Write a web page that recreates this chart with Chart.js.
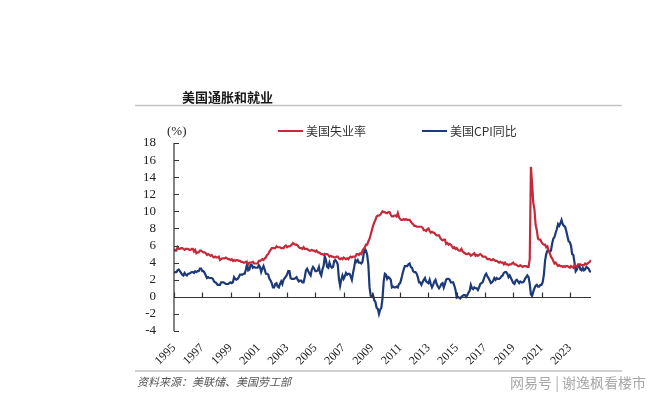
<!DOCTYPE html>
<html>
<head>
<meta charset="utf-8">
<script src="https://cdn.jsdelivr.net/npm/chart.js@4.4.1/dist/chart.umd.min.js"></script>
<style>
  html, body { margin: 0; padding: 0; background: #fff; }
  #wrap { position: relative; width: 660px; height: 399px; }
</style>
</head>
<body>
<div id="wrap"><canvas id="chart" width="660" height="399"></canvas></div>
<script>
// Données mensuelles, janvier 1995 -> juillet 2024
const startYear = 1995;
const tickYears = [1995, 1997, 1999, 2001, 2003, 2005, 2007, 2009, 2011, 2013, 2015, 2017, 2019, 2021, 2023];
const yTickValues = [-4, -2, 0, 2, 4, 6, 8, 10, 12, 14, 16, 18];

// 美国失业率 (%)
const unemployment = [
  5.6, 5.4, 5.4, 5.8, 5.6, 5.6, 5.7, 5.7, 5.6, 5.5, 5.6, 5.6,
  5.6, 5.5, 5.5, 5.6, 5.6, 5.3, 5.5, 5.1, 5.2, 5.2, 5.4, 5.4,
  5.3, 5.2, 5.2, 5.1, 4.9, 5.0, 4.9, 4.8, 4.9, 4.7, 4.6, 4.7,
  4.6, 4.6, 4.7, 4.3, 4.4, 4.5, 4.5, 4.5, 4.6, 4.5, 4.4, 4.4,
  4.3, 4.4, 4.2, 4.3, 4.2, 4.3, 4.3, 4.2, 4.2, 4.1, 4.1, 4.0,
  4.0, 4.1, 4.0, 3.8, 4.0, 4.0, 4.0, 4.1, 3.9, 3.9, 3.9, 3.9,
  4.2, 4.2, 4.3, 4.4, 4.3, 4.5, 4.6, 4.9, 5.0, 5.3, 5.5, 5.7,
  5.7, 5.7, 5.7, 5.9, 5.8, 5.8, 5.8, 5.7, 5.7, 5.7, 5.9, 6.0,
  5.8, 5.9, 5.9, 6.0, 6.1, 6.3, 6.2, 6.1, 6.1, 6.0, 5.8, 5.7,
  5.7, 5.6, 5.8, 5.6, 5.6, 5.6, 5.5, 5.4, 5.4, 5.5, 5.4, 5.4,
  5.3, 5.4, 5.2, 5.2, 5.1, 5.0, 5.0, 4.9, 5.0, 5.0, 5.0, 4.9,
  4.7, 4.8, 4.7, 4.7, 4.6, 4.6, 4.7, 4.7, 4.5, 4.4, 4.5, 4.4,
  4.6, 4.5, 4.4, 4.5, 4.4, 4.6, 4.7, 4.6, 4.7, 4.7, 4.7, 5.0,
  5.0, 4.9, 5.1, 5.0, 5.4, 5.6, 5.8, 6.1, 6.1, 6.5, 6.8, 7.3,
  7.8, 8.3, 8.7, 9.0, 9.4, 9.5, 9.5, 9.6, 9.8, 10.0, 9.9, 9.9,
  9.8, 9.8, 9.9, 9.9, 9.6, 9.4, 9.4, 9.5, 9.5, 9.4, 9.8, 9.3,
  9.1, 9.0, 9.0, 9.1, 9.0, 9.1, 9.0, 9.0, 9.0, 8.8, 8.6, 8.5,
  8.3, 8.3, 8.2, 8.2, 8.2, 8.2, 8.2, 8.1, 7.8, 7.8, 7.7, 7.9,
  8.0, 7.7, 7.5, 7.6, 7.5, 7.5, 7.3, 7.2, 7.2, 7.2, 6.9, 6.7,
  6.6, 6.7, 6.7, 6.2, 6.3, 6.1, 6.2, 6.1, 5.9, 5.7, 5.8, 5.6,
  5.7, 5.5, 5.4, 5.4, 5.6, 5.3, 5.2, 5.1, 5.0, 5.0, 5.1, 5.0,
  4.8, 4.9, 5.0, 5.1, 4.8, 4.9, 4.8, 4.9, 5.0, 4.9, 4.7, 4.7,
  4.7, 4.6, 4.4, 4.4, 4.4, 4.3, 4.3, 4.4, 4.3, 4.2, 4.2, 4.1,
  4.0, 4.1, 4.0, 4.0, 3.8, 4.0, 3.8, 3.8, 3.7, 3.8, 3.8, 3.9,
  4.0, 3.8, 3.8, 3.7, 3.6, 3.6, 3.7, 3.6, 3.5, 3.6, 3.6, 3.6,
  3.5, 3.5, 4.4, 15.2, 13.2, 11.0, 10.2, 8.4, 7.8, 6.8, 6.7, 6.7,
  6.4, 6.2, 6.1, 6.1, 5.8, 5.9, 5.4, 5.1, 4.7, 4.5, 4.2, 3.9,
  4.0, 3.8, 3.6, 3.7, 3.6, 3.6, 3.5, 3.6, 3.5, 3.6, 3.6, 3.5,
  3.4, 3.6, 3.5, 3.4, 3.7, 3.6, 3.5, 3.8, 3.8, 3.8, 3.7, 3.7,
  3.7, 3.9, 3.8, 3.9, 4.0, 4.1, 4.3
];

// 美国CPI同比 (%)
const cpiYoY = [
  2.8, 2.9, 2.9, 3.1, 3.2, 3.0, 2.8, 2.6, 2.5, 2.8, 2.6, 2.5,
  2.7, 2.7, 2.8, 2.9, 2.9, 2.8, 3.0, 2.9, 3.0, 3.0, 3.3, 3.3,
  3.0, 3.0, 2.8, 2.5, 2.2, 2.3, 2.2, 2.2, 2.2, 2.1, 1.8, 1.7,
  1.6, 1.4, 1.4, 1.4, 1.7, 1.7, 1.7, 1.6, 1.5, 1.5, 1.5, 1.6,
  1.7, 1.6, 1.7, 2.3, 2.1, 2.0, 2.1, 2.3, 2.6, 2.6, 2.6, 2.7,
  2.7, 3.2, 3.8, 3.1, 3.2, 3.7, 3.7, 3.4, 3.5, 3.4, 3.4, 3.4,
  3.7, 3.5, 2.9, 3.3, 3.6, 3.2, 2.7, 2.7, 2.6, 2.1, 1.9, 1.6,
  1.1, 1.1, 1.5, 1.6, 1.2, 1.1, 1.5, 1.8, 1.5, 2.0, 2.2, 2.4,
  2.6, 3.0, 3.0, 2.2, 2.1, 2.1, 2.1, 2.2, 2.3, 2.0, 1.8, 1.9,
  1.9, 1.7, 1.7, 2.3, 3.1, 3.3, 3.0, 2.7, 2.5, 3.2, 3.5, 3.3,
  3.0, 3.0, 3.1, 3.5, 2.8, 2.5, 3.2, 3.6, 4.7, 4.3, 3.5, 3.4,
  4.0, 3.6, 3.4, 3.5, 4.2, 4.3, 4.1, 3.8, 2.1, 1.3, 2.0, 2.5,
  2.1, 2.4, 2.8, 2.6, 2.7, 2.7, 2.4, 2.0, 2.8, 3.5, 4.3, 4.1,
  4.3, 4.0, 4.0, 3.9, 4.1, 5.0, 5.6, 5.4, 4.9, 3.7, 1.1, 0.1,
  0.0, 0.2, -0.4, -0.6, -1.3, -1.4, -2.0, -1.5, -1.3, -0.2, 1.8, 2.7,
  2.6, 2.1, 2.3, 2.2, 2.0, 1.1, 1.2, 1.1, 1.1, 1.2, 1.1, 1.5,
  1.6, 2.1, 2.7, 3.2, 3.6, 3.6, 3.6, 3.8, 3.9, 3.5, 3.4, 3.0,
  2.9, 2.9, 2.7, 2.3, 1.7, 1.7, 1.4, 1.7, 2.0, 2.2, 1.8, 1.7,
  1.6, 2.0, 1.5, 1.1, 1.4, 1.8, 2.0, 1.5, 1.2, 1.0, 1.2, 1.5,
  1.6, 1.1, 1.5, 2.0, 2.1, 2.1, 2.0, 1.7, 1.7, 1.7, 1.3, 0.8,
  -0.1, 0.0, -0.1, -0.2, 0.0, 0.1, 0.2, 0.2, 0.0, 0.2, 0.5, 0.7,
  1.4, 1.0, 0.9, 1.1, 1.0, 1.0, 0.8, 1.1, 1.5, 1.6, 1.7, 2.1,
  2.5, 2.7, 2.4, 2.2, 1.9, 1.6, 1.7, 1.9, 2.2, 2.0, 2.2, 2.1,
  2.1, 2.2, 2.4, 2.5, 2.8, 2.9, 2.9, 2.7, 2.3, 2.5, 2.2, 1.9,
  1.6, 1.5, 1.9, 2.0, 1.8, 1.6, 1.8, 1.7, 1.7, 1.8, 2.1, 2.3,
  2.5, 2.3, 1.5, 0.3, 0.1, 0.6, 1.0, 1.3, 1.4, 1.2, 1.2, 1.4,
  1.4, 1.7, 2.6, 4.2, 5.0, 5.4, 5.4, 5.3, 5.4, 6.2, 6.8, 7.0,
  7.5, 7.9, 8.5, 8.3, 8.6, 9.0, 8.5, 8.3, 8.2, 7.7, 7.1, 6.5,
  6.4, 6.0, 5.0, 4.9, 4.0, 3.0, 3.2, 3.7, 3.7, 3.2, 3.1, 3.4,
  3.1, 3.2, 3.5, 3.4, 3.3, 3.0, 2.9
];

const RED = '#c42a3a';
const BLUE = '#1c3a78';
const AXIS = '#333';

function toPoints(values) {
  return values.map((v, i) => ({ x: startYear + i / 12, y: v }));
}

// Axes dessinés à la main : axe X à y=0, graduations vers l'intérieur
const axesPlugin = {
  id: 'axes',
  afterDatasetsDraw(chart) {
    const { ctx, chartArea, scales } = chart;
    const x = scales.x, y = scales.y;
    ctx.save();
    ctx.strokeStyle = AXIS;
    ctx.lineWidth = 1.2;
    // axe Y
    ctx.beginPath();
    ctx.moveTo(chartArea.left, chartArea.top);
    ctx.lineTo(chartArea.left, chartArea.bottom);
    yTickValues.forEach(v => {
      const py = Math.round(y.getPixelForValue(v)) + 0.5;
      ctx.moveTo(chartArea.left, py);
      ctx.lineTo(chartArea.left + 5, py);
    });
    // axe X à zéro
    const y0 = Math.round(y.getPixelForValue(0)) + 0.5;
    ctx.moveTo(chartArea.left, y0);
    ctx.lineTo(chartArea.right, y0);
    tickYears.forEach(v => {
      const px = Math.round(x.getPixelForValue(v)) + 0.5;
      ctx.moveTo(px, y0);
      ctx.lineTo(px, y0 - 5);
    });
    ctx.stroke();
    ctx.restore();
  }
};

// Titre, légende, source
const textPlugin = {
  id: 'texts',
  afterDraw(chart) {
    const ctx = chart.ctx;
    ctx.save();
    ctx.textBaseline = 'middle';

    ctx.fillStyle = '#1a1a1a';
    ctx.font = 'bold 13px "Noto Sans CJK SC"';
    ctx.fillText('美国通胀和就业', 182, 97);

    ctx.strokeStyle = '#c4c4c4';
    ctx.lineWidth = 1.5;
    ctx.beginPath();
    ctx.moveTo(135, 105.5);
    ctx.lineTo(622, 105.5);
    ctx.stroke();

    ctx.strokeStyle = '#d0d0d0';
    ctx.lineWidth = 2;
    ctx.beginPath();
    ctx.moveTo(135, 371);
    ctx.lineTo(622, 371);
    ctx.stroke();

    ctx.fillStyle = '#222';
    ctx.font = '13px "Liberation Serif"';
    ctx.fillText('(%)', 167, 132);

    // légende
    ctx.lineWidth = 2;
    ctx.strokeStyle = RED;
    ctx.beginPath(); ctx.moveTo(278, 131); ctx.lineTo(303, 131); ctx.stroke();
    ctx.strokeStyle = BLUE;
    ctx.beginPath(); ctx.moveTo(422, 131); ctx.lineTo(447, 131); ctx.stroke();
    ctx.fillStyle = '#333';
    ctx.font = '12px "Noto Sans CJK SC"';
    ctx.fillText('美国失业率', 306, 131);
    ctx.fillText('美国CPI同比', 450, 131);

    ctx.fillStyle = '#555';
    ctx.font = 'italic 11px "Liberation Serif", "Noto Sans CJK SC"';
    ctx.fillText('资料来源：美联储、美国劳工部', 137, 383);

    ctx.fillStyle = '#a8a8a8';
    ctx.font = '14px "Noto Sans CJK SC"';
    ctx.fillText('网易号 | 谢逸枫看楼市', 510, 383);
    ctx.restore();
  }
};

new Chart(document.getElementById('chart'), {
  type: 'line',
  data: {
    datasets: [
      {
        label: '美国失业率',
        data: toPoints(unemployment),
        borderColor: RED,
        borderWidth: 2.2,
        pointRadius: 0,
        tension: 0
      },
      {
        label: '美国CPI同比',
        data: toPoints(cpiYoY),
        borderColor: BLUE,
        borderWidth: 2.2,
        pointRadius: 0,
        tension: 0
      }
    ]
  },
  options: {
    responsive: false,
    animation: false,
    devicePixelRatio: 1,
    layout: { padding: { left: 134, top: 143, right: 69, bottom: 28 } },
    plugins: {
      legend: { display: false },
      tooltip: { enabled: false }
    },
    scales: {
      x: {
        type: 'linear',
        min: 1995,
        max: 2024.5,
        grid: { display: false },
        border: { display: false },
        afterBuildTicks: s => { s.ticks = tickYears.map(v => ({ value: v })); },
        afterFit: s => { s.height = 40; },
        ticks: {
          autoSkip: false,
          color: '#222',
          font: { family: 'Liberation Serif', size: 12 },
          minRotation: 45,
          maxRotation: 45,
          padding: 2,
          callback: v => String(v)
        }
      },
      y: {
        min: -4,
        max: 18,
        grid: { display: false },
        border: { display: false },
        afterBuildTicks: s => { s.ticks = yTickValues.map(v => ({ value: v })); },
        afterFit: s => { s.width = 40; },
        ticks: {
          autoSkip: false,
          color: '#222',
          font: { family: 'Liberation Serif', size: 13 },
          padding: 10
        }
      }
    }
  },
  plugins: [axesPlugin, textPlugin]
});
</script>
</body>
</html>
